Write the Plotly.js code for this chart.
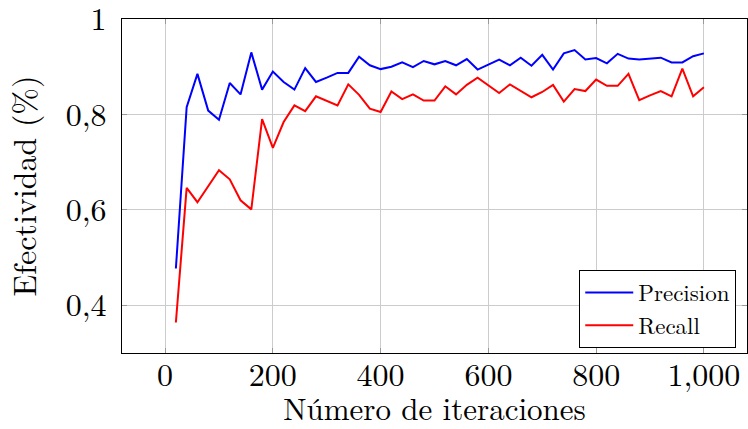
<!DOCTYPE html>
<html>
<head>
<meta charset="utf-8">
<script src="https://cdn.plot.ly/plotly-3.0.1.min.js"></script>
<style>html,body{margin:0;padding:0;background:#fff;}#chart{width:748px;height:429px;}</style>
</head>
<body>
<div id="chart"></div>
<script>
const iterations = [20,40,60,80,100,120,140,160,180,200,220,240,260,280,300,320,340,360,380,400,420,440,460,480,500,520,540,560,580,600,620,640,660,680,700,720,740,760,780,800,820,840,860,880,900,920,940,960,980,1000];
const precision = [0.477,0.815,0.885,0.808,0.789,0.866,0.842,0.930,0.852,0.890,0.868,0.852,0.897,0.868,0.877,0.887,0.887,0.921,0.903,0.895,0.900,0.909,0.899,0.912,0.905,0.912,0.903,0.916,0.894,0.905,0.915,0.903,0.919,0.902,0.925,0.894,0.928,0.935,0.915,0.918,0.907,0.927,0.917,0.915,0.917,0.919,0.909,0.909,0.922,0.928];
const recall = [0.364,0.646,0.616,0.650,0.683,0.664,0.620,0.601,0.790,0.730,0.784,0.819,0.807,0.838,0.829,0.819,0.863,0.841,0.812,0.805,0.848,0.832,0.842,0.829,0.829,0.859,0.842,0.862,0.877,0.861,0.845,0.863,0.850,0.836,0.847,0.862,0.827,0.853,0.849,0.873,0.860,0.860,0.885,0.830,0.840,0.849,0.838,0.896,0.838,0.857];
const xTickVals = [0,200,400,600,800,1000];
const xTickText = ["0","200","400","600","800","1,000"];
const yTickVals = [0.4,0.6,0.8,1];
const yTickText = ["0,4","0,6","0,8","1"];
const seriesNames = ["Precision","Recall"];

const font = "Latin Modern Roman, CMU Serif, DejaVu Serif, serif";
const traces = [
  {x: iterations, y: precision, name: seriesNames[0], mode: "lines", line: {color: "#0000ff", width: 2}},
  {x: iterations, y: recall, name: seriesNames[1], mode: "lines", line: {color: "#ff0000", width: 2}}
];
const axisCommon = {
  showline: true, mirror: "ticks", linecolor: "#000", linewidth: 1,
  ticks: "inside", ticklen: 5, tickcolor: "#999", tickwidth: 1,
  showgrid: true, gridcolor: "#cccccc", gridwidth: 1, zeroline: false,
  ticklabeloverflow: "allow",
  tickfont: {family: font, size: 32, color: "#000"}
};
const layout = {
  width: 748, height: 429,
  margin: {l: 122, r: 1, t: 19, b: 76},
  paper_bgcolor: "#fff", plot_bgcolor: "#fff",
  font: {family: font, color: "#000"},
  xaxis: Object.assign({}, axisCommon, {
    range: [-80, 1080], tickmode: "array", tickvals: xTickVals, ticktext: xTickText,
    ticklabelstandoff: -6,
    title: {text: "Número de iteraciones", font: {family: font, size: 31}, standoff: 4}
  }),
  yaxis: Object.assign({}, axisCommon, {
    range: [0.3, 1.0], tickmode: "array", tickvals: yTickVals, ticktext: yTickText,
    ticklabelstandoff: 8,
    title: {text: "Efectividad (%)", font: {family: font, size: 32}, standoff: 20}
  }),
  legend: {
    x: 0.7316, y: 0.2485, xanchor: "left", yanchor: "top",
    bgcolor: "#fff", bordercolor: "#000", borderwidth: 1, itemwidth: 48,
    font: {family: font, size: 23, color: "#000"}, tracegroupgap: 0
  },
  showlegend: true
};
Plotly.newPlot("chart", traces, layout, {displayModeBar: false, staticPlot: true});
</script>
</body>
</html>
